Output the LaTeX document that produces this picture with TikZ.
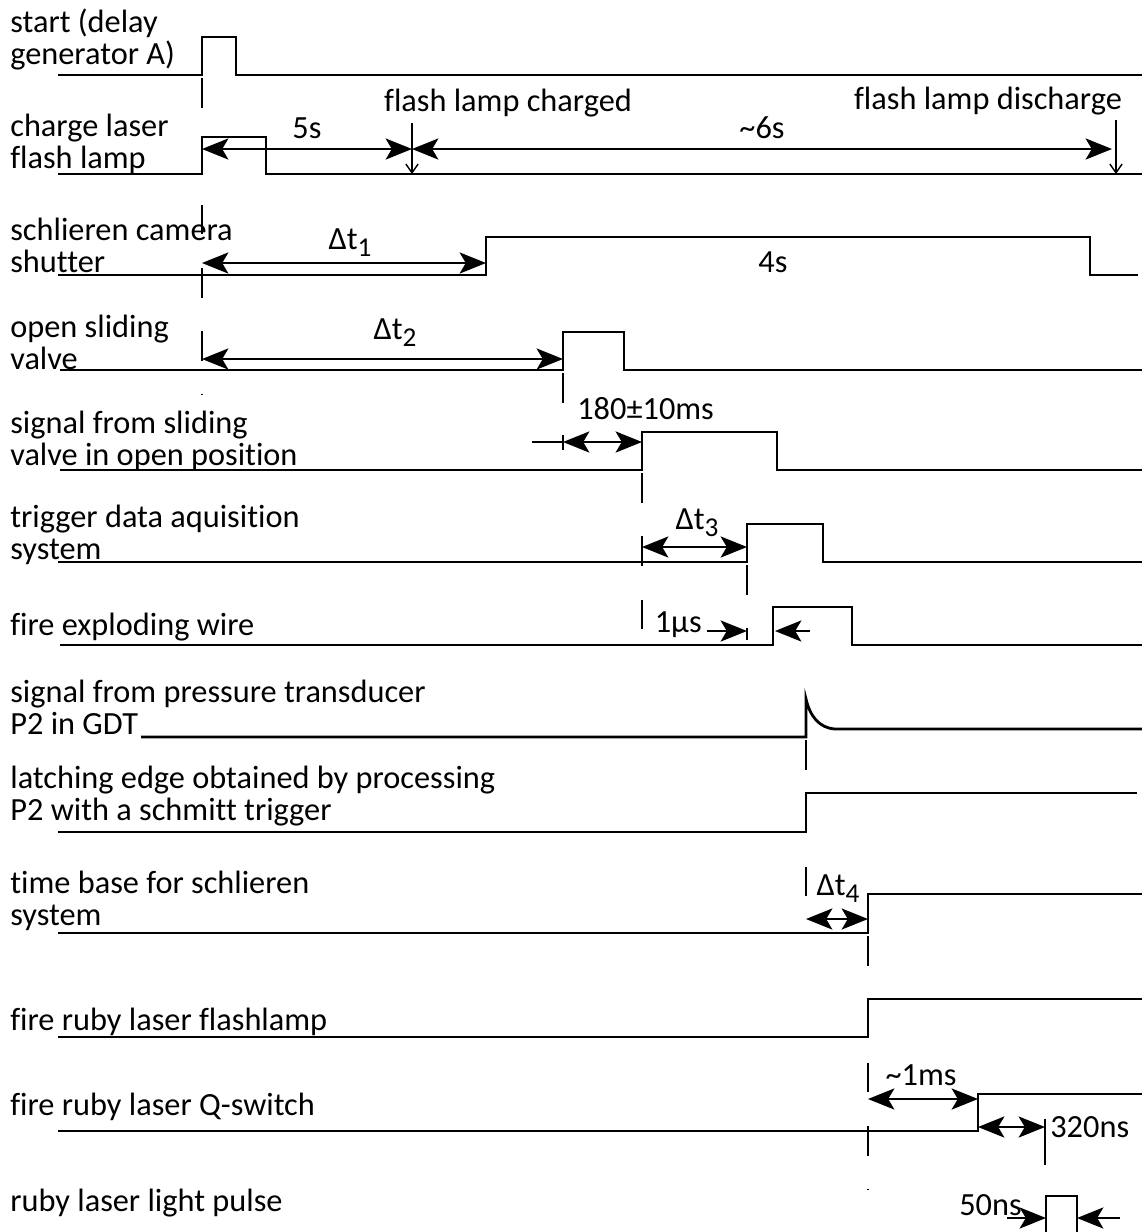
\documentclass[tikz,border=0pt]{standalone}
\usepackage{fontspec}
\setmainfont{Carlito}[Ligatures=NoCommon]
\usetikzlibrary{arrows.meta}
\newcommand{\dsub}[1]{\raisebox{-0.45ex}{\fontsize{15.5}{15.5}\selectfont #1}}

\begin{document}
\begin{tikzpicture}[x=0.02cm, y=-0.02cm,
		lbl/.style={anchor=west, align=left, inner sep=0pt, font=\fontsize{18.4}{18.2}\selectfont},
		txt/.style={inner sep=0pt, font=\fontsize{18.4}{18.2}\selectfont},
		sig/.style={line width=1.6pt},
		refl/.style={line width=1.3pt, dash pattern=on 17pt off 19pt},
		dim/.style={line width=1.3pt, {Stealth[length=15pt,width=12pt,inset=3.5pt]}-{Stealth[length=15pt,width=12pt,inset=3.5pt]}},
		onearr/.style={line width=1.3pt, -{Stealth[length=15pt,width=12pt,inset=3.5pt]}},
		evarrow/.style={line width=0.8pt, -{Straight Barb[length=5pt,width=7pt]}}]
			\useasboundingbox (0, 0) rectangle (1142, 1232);
			% signal names
			\draw (10, 39) node [lbl] (start) {start (delay\\generator A)};
			\draw (10, 144) node [lbl] (charge) {charge laser\\flash lamp};
			\draw (10, 245) node [lbl] (shutter) {schlieren camera\\shutter};
			\draw (10, 342) node [lbl] (valve) {open sliding\\valve};
			\draw (10, 441) node [lbl] (valvepos) {signal from sliding\\valve in open position};
			\draw (10, 535) node [lbl] (daq) {trigger data aquisition\\system};
			\draw (10, 627) node [lbl] (wire) {fire exploding wire};
			\draw (10, 707) node [lbl] (ptrans) {signal from pressure transducer\\P2 in GDT};
			\draw (10, 796) node [lbl] (latch) {latching edge obtained by processing\\P2 with a schmitt trigger};
			\draw (10, 901) node [lbl] (tbase) {time base for schlieren\\system};
			\draw (10, 1022) node [lbl] (flash) {fire ruby laser flashlamp};
			\draw (10, 1107) node [lbl] (qsw) {fire ruby laser Q-switch};
			\draw (10, 1203) node [lbl] (pulse) {ruby laser light pulse};

			% waveforms
			\draw [sig] (58, 75) -- (202, 75) -- (202, 37) -- (236, 37) -- (236, 75) -- (1142, 75);
			\draw [sig] (58, 174) -- (202, 174) -- (202, 137) -- (266, 137) -- (266, 174) -- (1142, 174);
			\draw [sig] (58, 275) -- (486, 275) -- (486, 237) -- (1090, 237) -- (1090, 275) -- (1138, 275);
			\draw [sig] (60, 370) -- (563, 370) -- (563, 332) -- (624, 332) -- (624, 370) -- (1142, 370);
			\draw [sig] (60, 470) -- (642, 470) -- (642, 432) -- (777, 432) -- (777, 470) -- (1142, 470);
			\draw [sig] (58, 562) -- (747, 562) -- (747, 524) -- (823, 524) -- (823, 562) -- (1142, 562);
			\draw [sig] (60, 645) -- (773, 645) -- (773, 607) -- (852, 607) -- (852, 645) -- (1142, 645);
			\draw [sig] (141, 737) -- (806, 737) -- (806, 699) .. controls (810, 716) and (819, 728) .. (835, 729) -- (1142, 729);
			\draw [sig] (58, 832) -- (806, 832) -- (806, 793) -- (1137, 793);
			\draw [sig] (58, 933) -- (868, 933) -- (868, 894) -- (1142, 894);
			\draw [sig] (58, 1037) -- (868, 1037) -- (868, 999) -- (1142, 999);
			\draw [sig] (58, 1131) -- (978, 1131) -- (978, 1094) -- (1142, 1094);
			\draw [sig] (1046, 1232) -- (1046, 1196) -- (1077, 1196) -- (1077, 1232);

			% reference lines
			\draw [refl] (202, 78) -- (202, 395);
			\draw [refl] (563, 373) -- (563, 450);
			\draw [refl] (642, 473) -- (642, 645);
			\draw [refl] (747, 565) -- (747, 640);
			\draw [refl] (806, 740) -- (806, 928);
			\draw [refl] (868, 936) -- (868, 1190);
			\draw [refl] (1045, 1135) -- (1045, 1180);

			% timing
			\draw [dim] (202, 149) -- node [txt, above=5pt] (t5s) {5s} (412, 149);
			\draw [dim] (412, 149) -- node [txt, above=5pt] (t6s) {\textasciitilde6s} (1112, 149);
			\draw (508, 103) node [txt] (charged) {flash lamp charged};
			\draw (988, 101) node [txt] (discharge) {flash lamp discharge};
			\draw [evarrow] (412, 123) -- (412, 174);
			\draw [evarrow] (1116, 120) -- (1116, 174);
			\draw [dim] (202, 263) -- (486, 263);
			\draw (350, 243) node [txt] (dt1) {Δt\dsub{1}};
			\draw (773, 262) node [txt] (t4s) {4s};
			\draw [dim] (202, 359) -- (563, 359);
			\draw (395, 333) node [txt] (dt2) {Δt\dsub{2}};
			\draw [line width=1.3pt] (532, 442) -- (563, 442);
			\draw [line width=1.3pt] (563, 435) -- (563, 449);
			\draw [dim] (563, 442) -- (642, 442);
			\draw (577, 409) node [txt, anchor=west] (t180) {180±10ms};
			\draw [dim] (642, 547) -- (747, 547);
			\draw (697, 523) node [txt] (dt3) {Δt\dsub{3}};
			\draw (702, 625) node [txt, anchor=east] (t1us) {1μs};
			\draw [onearr] (707, 631) -- (747, 631);
			\draw [onearr] (810, 631) -- (775, 631);
			\draw [dim] (806, 919) -- (868, 919);
			\draw (838, 889) node [txt] (dt4) {Δt\dsub{4}};
			\draw [dim] (868, 1099) -- (978, 1099);
			\draw (921, 1075) node [txt] (t1ms) {\textasciitilde1ms};
			\draw [dim] (978, 1127) -- (1045, 1127);
			\draw [line width=1.3pt] (1045, 1119) -- (1045, 1135);
			\draw (1050, 1127) node [txt, anchor=west] (t320) {320ns};
			\draw (1022, 1205) node [txt, anchor=east] (t50) {50ns};
			\draw [onearr] (1007, 1218) -- (1046, 1218);
			\draw [onearr] (1120, 1218) -- (1077, 1218);
		\end{tikzpicture}
\end{document}
